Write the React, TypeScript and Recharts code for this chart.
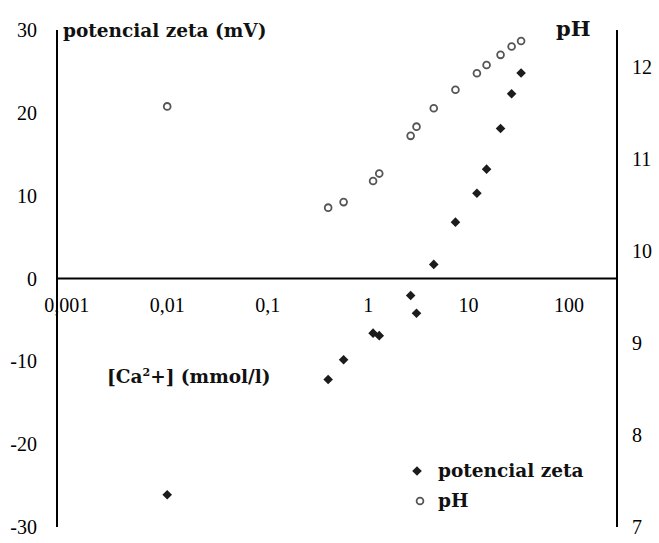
import { ScatterChart, Scatter, XAxis, YAxis, ReferenceLine, ReferenceDot, Legend } from 'recharts';

// [Ca2+] concentrations (mmol/l), shared by both series
const concentration = [0.01, 0.4, 0.57, 1.12, 1.29, 2.65, 3.03, 4.5, 7.4, 12.1, 15.1, 20.8, 26.8, 33.3];
const zetaPotential = [-26.1, -12.2, -9.8, -6.6, -6.9, -2.05, -4.2, 1.7, 6.8, 10.3, 13.2, 18.1, 22.3, 24.8];
const phValues = [11.57, 10.47, 10.53, 10.76, 10.84, 11.25, 11.35, 11.55, 11.75, 11.93, 12.02, 12.13, 12.22, 12.28];

const xTickValues = [0.001, 0.01, 0.1, 1, 10, 100];
const xTickLabels = ['0,001', '0,01', '0,1', '1', '10', '100'];
const zetaTicks = [-30, -20, -10, 0, 10, 20, 30];
const phTicks = [7, 8, 9, 10, 11, 12];

const zetaData = concentration.map((x, i) => ({ x, y: zetaPotential[i] }));
const phData = concentration.map((x, i) => ({ x, y: phValues[i] }));

const serif = '"Liberation Serif", "Times New Roman", serif';
const slab = '"DejaVu Serif", serif';

const Diamond = ({ cx, cy }: any) => (
    <path d={`M${cx},${cy - 4.8} L${cx + 4.8},${cy} L${cx},${cy + 4.8} L${cx - 4.8},${cy} Z`} fill="#1c1c1c" />
);

const Ring = ({ cx, cy }: any) => (
    <circle cx={cx} cy={cy} r={3.4} fill="#fff" stroke="#555" strokeWidth={1.8} />
);

const legendItems = [
    { name: 'potencial zeta', icon: 'diamond' },
    { name: 'pH', icon: 'ring' },
];

function LegendContent() {
    return (
        <div style={{ fontFamily: slab, fontWeight: 700, fontSize: 18.5, color: '#111', lineHeight: '30px' }}>
            {legendItems.map((item) => (
                <div key={item.name} style={{ display: 'flex', alignItems: 'center' }}>
                    <svg width={20} height={12} style={{ marginRight: 10 }}>
                        {item.icon === 'diamond' ? <Diamond cx={9} cy={6} /> : <Ring cx={12} cy={6} />}
                    </svg>
                    {item.name}
                </div>
            ))}
        </div>
    );
}

export default function App() {
    return (
        <div style={{ position: 'absolute', left: 0, top: 0, width: 659, height: 543, background: '#fff' }}>
            <ScatterChart width={659} height={543} margin={{ top: 30, right: 0, left: 0, bottom: 16 }}>
                <XAxis
                    type="number"
                    dataKey="x"
                    scale="log"
                    domain={[0.0008, 300]}
                    allowDataOverflow
                    hide
                />
                <YAxis
                    yAxisId="left"
                    type="number"
                    dataKey="y"
                    domain={[-30, 30]}
                    ticks={zetaTicks}
                    width={57}
                    axisLine={{ stroke: '#000', strokeWidth: 2 }}
                    tickLine={false}
                    tickSize={0}
                    tickMargin={20}
                    tick={{ fill: '#000', fontSize: 20, fontFamily: serif }}
                />
                <YAxis
                    yAxisId="right"
                    orientation="right"
                    type="number"
                    dataKey="y"
                    domain={[7, 12.4]}
                    ticks={phTicks}
                    width={42}
                    axisLine={{ stroke: '#000', strokeWidth: 2 }}
                    tickLine={false}
                    tickSize={0}
                    tickMargin={15}
                    tick={{ fill: '#000', fontSize: 20, fontFamily: serif }}
                />
                <ReferenceLine yAxisId="left" y={0} stroke="#000" strokeWidth={2} />
                {xTickValues.map((v, i) => (
                    <ReferenceDot
                        key={v}
                        yAxisId="left"
                        x={v}
                        y={0}
                        r={1}
                        fill="none"
                        stroke="none"
                        label={{ value: xTickLabels[i], position: 'bottom', offset: 18, fill: '#000', fontSize: 20, fontFamily: serif }}
                    />
                ))}
                <Scatter name="potencial zeta" yAxisId="left" data={zetaData} shape={<Diamond />} isAnimationActive={false} />
                <Scatter name="pH" yAxisId="right" data={phData} shape={<Ring />} isAnimationActive={false} />
                <Legend
                    layout="vertical"
                    align="center"
                    verticalAlign="middle"
                    content={<LegendContent />}
                    wrapperStyle={{ left: 408, top: 456, width: 230 }}
                />
            </ScatterChart>
            <div style={{ position: 'absolute', left: 63, top: 20, fontFamily: slab, fontWeight: 700, fontSize: 18.5, color: '#111' }}>
                potencial zeta (mV)
            </div>
            <div style={{ position: 'absolute', left: 556, top: 16, fontFamily: slab, fontWeight: 700, fontSize: 21, color: '#111' }}>
                pH
            </div>
            <div style={{ position: 'absolute', left: 107, top: 366, fontFamily: slab, fontWeight: 700, fontSize: 18.5, color: '#111' }}>
                [Ca<sup style={{ fontSize: 11 }}>2</sup>+] (mmol/l)
            </div>
        </div>
    );
}
